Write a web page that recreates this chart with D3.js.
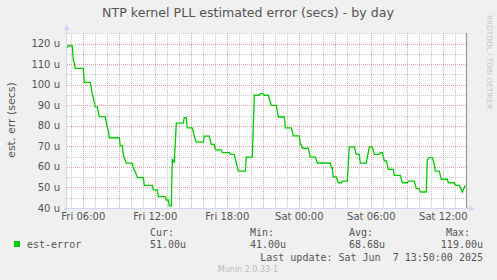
<!DOCTYPE html>
<html>
<head>
<meta charset="utf-8">
<script src="https://cdn.jsdelivr.net/npm/d3@7"></script>
<style>
  html, body { margin: 0; padding: 0; background: #f0f0f0; }
  svg { display: block; }
  text { font-family: "DejaVu Sans", sans-serif; fill: #555; }
  .mono { font-family: "DejaVu Sans Mono", monospace; }
</style>
</head>
<body>
<svg id="chart" width="497" height="280"></svg>
<script>
// Breakpoints of the est-error series (time, microseconds)
const times = [
  "06 04:40", "06 04:45", "06 05:05", "06 05:10", "06 05:15", "06 05:20", "06 06:00", "06 06:05",
  "06 06:35", "06 06:45", "06 06:50", "06 07:00", "06 07:10", "06 07:20", "06 07:50", "06 08:00",
  "06 08:05", "06 08:10", "06 09:00", "06 09:05", "06 09:15", "06 09:20", "06 09:25", "06 09:35",
  "06 10:05", "06 10:10", "06 10:20", "06 10:30", "06 11:00", "06 11:05", "06 11:45", "06 11:50",
  "06 12:10", "06 12:15", "06 12:50", "06 12:55", "06 13:05", "06 13:10", "06 13:20", "06 13:25",
  "06 13:30", "06 13:35", "06 13:45", "06 14:20", "06 14:25", "06 14:35", "06 14:40", "06 15:05",
  "06 15:15", "06 15:25", "06 16:00", "06 16:05", "06 16:30", "06 16:40", "06 16:55", "06 17:00",
  "06 17:30", "06 17:35", "06 18:10", "06 18:15", "06 18:35", "06 18:45", "06 18:55", "06 19:30",
  "06 19:35", "06 20:05", "06 20:15", "06 20:40", "06 20:45", "06 21:00", "06 21:05", "06 21:25",
  "06 21:40", "06 22:05", "06 22:15", "06 22:45", "06 22:50", "06 23:20", "06 23:30", "07 00:00",
  "07 00:05", "07 00:10", "07 00:15", "07 00:45", "07 00:55", "07 01:20", "07 01:30", "07 02:35",
  "07 02:40", "07 02:45", "07 02:50", "07 03:05", "07 03:15", "07 03:30", "07 03:35", "07 04:00",
  "07 04:10", "07 04:35", "07 04:45", "07 05:00", "07 05:05", "07 05:35", "07 05:40", "07 05:50",
  "07 06:05", "07 06:15", "07 06:40", "07 06:45", "07 06:55", "07 07:05", "07 07:15", "07 07:25",
  "07 07:50", "07 07:55", "07 08:25", "07 08:35", "07 09:00", "07 09:05", "07 09:35", "07 09:45",
  "07 10:00", "07 10:05", "07 10:35", "07 10:40", "07 10:50", "07 11:05", "07 11:15", "07 11:20",
  "07 11:40", "07 11:50", "07 12:20", "07 12:25", "07 12:55", "07 13:00", "07 13:20", "07 13:35",
  "07 13:50"
];
const estError = [
  118, 119, 119, 111.6, 110.7, 108, 108, 101.2,
  101.2, 95.4, 93.7, 89.2, 89.2, 84.5, 84.5, 79.1,
  77.9, 74.2, 74.2, 70.2, 70.2, 66.1, 64.5, 61.8,
  61.8, 59.3, 57.7, 54.8, 54.8, 51.0, 51.0, 48.8,
  48.8, 45.5, 45.5, 43.9, 43.9, 41.0, 41.0, 64.0,
  62.4, 62.4, 81.3, 81.3, 84.0, 84.0, 79.0, 79.0,
  75.0, 72.1, 72.1, 75.0, 75.0, 71.0, 71.0, 68.3,
  68.3, 67.0, 67.0, 66.1, 66.1, 62.0, 58.0, 58.0,
  64.8, 64.8, 94.9, 94.9, 95.7, 95.7, 94.9, 94.9,
  90.0, 90.0, 84.3, 84.3, 79.0, 79.0, 75.1, 75.1,
  71.0, 71.0, 69.1, 69.1, 64.8, 64.8, 61.9, 61.9,
  59.6, 59.6, 55.1, 55.1, 52.3, 52.3, 53.1, 53.1,
  69.8, 69.8, 66.1, 66.1, 61.8, 61.8, 64.5, 69.8,
  69.8, 66.1, 66.1, 66.9, 66.9, 62.9, 62.9, 58.8,
  58.8, 55.9, 55.9, 52.3, 52.3, 53.1, 53.1, 49.4,
  49.4, 47.8, 47.8, 63.4, 64.5, 64.5, 61.3, 58.0,
  58.0, 54.0, 54.0, 52.3, 52.3, 51.0, 51.0, 47.8,
  51.0
];
const yTickValues = [40, 50, 60, 70, 80, 90, 100, 110, 120];
const legendHeads = ["Cur:", "Min:", "Avg:", "Max:"];
const legendValues = ["51.00u", "41.00u", "68.68u", "119.00u"];
const seriesName = "est-error";
const lastUpdate = "Last update: Sat Jun  7 13:50:00 2025";

const parseTime = d3.timeParse("%Y-%m-%d %H:%M");
const data = times.map((t, i) => ({ t: parseTime("2025-06-" + t), v: estError[i] }));

const svg = d3.select("#chart");
const plotL = 67, plotR = 467, plotT = 33, plotB = 208;

// 400 px at 5 min per pixel
const x = d3.scaleTime()
  .domain([new Date(2025, 5, 6, 4, 38, 30), new Date(2025, 5, 7, 13, 58, 30)])
  .range([plotL, plotR]);
const y = d3.scaleLinear().domain([40, 125.2]).range([plotB, plotT]);

// canvas
svg.append("rect").attr("x", plotL).attr("y", plotT)
  .attr("width", plotR - plotL).attr("height", plotB - plotT).attr("fill", "#fff");

const grid = svg.append("g").attr("stroke-dasharray", "1,1").attr("stroke-width", 1);
const px = v => Math.round(v) + 0.5;

// minor grid
d3.range(40, 126, 5).filter(v => v % 10 !== 0).forEach(v => {
  grid.append("line").attr("x1", plotL).attr("x2", plotR)
    .attr("y1", px(y(v))).attr("y2", px(y(v))).attr("stroke", "#c8c8c8");
});
x.ticks(d3.timeHour.every(1)).filter(d => d.getHours() % 3 !== 0).forEach(d => {
  grid.append("line").attr("y1", plotT).attr("y2", plotB)
    .attr("x1", px(x(d))).attr("x2", px(x(d))).attr("stroke", "#c8c8c8");
});
// major grid
yTickValues.forEach(v => {
  grid.append("line").attr("x1", plotL).attr("x2", plotR)
    .attr("y1", px(y(v))).attr("y2", px(y(v))).attr("stroke", "#e8a0a0");
});
x.ticks(d3.timeHour.every(3)).forEach(d => {
  grid.append("line").attr("y1", plotT).attr("y2", plotB)
    .attr("x1", px(x(d))).attr("x2", px(x(d))).attr("stroke", "#e8a0a0");
});

// axes
const axisColor = "#cfd6f8";
svg.append("line").attr("x1", plotL - 0.5).attr("x2", plotL - 0.5)
  .attr("y1", plotB + 3).attr("y2", plotT - 4).attr("stroke", axisColor);
svg.append("line").attr("x1", plotL - 3).attr("x2", plotR + 3)
  .attr("y1", plotB + 0.5).attr("y2", plotB + 0.5).attr("stroke", axisColor);
svg.append("path").attr("d", `M${plotL - 3.5},${plotT - 3} L${plotL - 0.5},${plotT - 9} L${plotL + 2.5},${plotT - 3} Z`)
  .attr("fill", axisColor);
svg.append("path").attr("d", `M${plotR + 2},${plotB - 2.5} L${plotR + 8},${plotB + 0.5} L${plotR + 2},${plotB + 3.5} Z`)
  .attr("fill", axisColor);
svg.append("line").attr("x1", plotR - 0.5).attr("x2", plotR - 0.5)
  .attr("y1", plotT).attr("y2", plotB).attr("stroke", "#999").attr("stroke-width", 1.2);

// y tick labels
svg.append("g").selectAll("text").data(yTickValues).join("text")
  .attr("x", 60).attr("y", d => y(d) + 3.5)
  .attr("text-anchor", "end").attr("font-size", 10)
  .text(d => d + " u");

// x tick labels
const fmt = d3.timeFormat("%a %H:%M");
svg.append("g").selectAll("text").data(x.ticks(d3.timeHour.every(6))).join("text")
  .attr("x", d => x(d)).attr("y", 220)
  .attr("text-anchor", "middle").attr("font-size", 10)
  .text(fmt);

// series
const line = d3.line().x(d => x(d.t)).y(d => y(d.v));
svg.append("path").datum(data)
  .attr("d", line).attr("fill", "none")
  .attr("stroke", "#00cc00").attr("stroke-width", 1.3);

// title + labels
svg.append("text").attr("x", 248).attr("y", 17).attr("text-anchor", "middle")
  .attr("font-size", 12.6).text("NTP kernel PLL estimated error (secs) - by day");
svg.append("text").attr("transform", "translate(15,120) rotate(-90)")
  .attr("text-anchor", "middle").attr("font-size", 11).text("est. err (secs)");
svg.append("text").attr("transform", "translate(487,15) rotate(90)")
  .attr("font-size", 7.3).style("fill", "#c8c8c8").text("RRDTOOL / TOBI OETIKER");

// legend
svg.append("rect").attr("x", 14).attr("y", 241).attr("width", 6).attr("height", 6).attr("fill", "#00cc00");
svg.append("text").attr("class", "mono").attr("x", 27).attr("y", 248).attr("font-size", 10).text(seriesName);
const colX = [150, 250, 349, 483];
legendHeads.forEach((h, i) => {
  const anchor = i === 3 ? "end" : "start";
  const hx = i === 3 ? 470 : colX[i];
  svg.append("text").attr("class", "mono").attr("x", hx).attr("y", 236)
    .attr("text-anchor", anchor).attr("font-size", 10).text(h);
  svg.append("text").attr("class", "mono").attr("x", colX[i]).attr("y", 248)
    .attr("text-anchor", anchor).attr("font-size", 10).text(legendValues[i]);
});
svg.append("text").attr("class", "mono").attr("x", 483).attr("y", 261)
  .attr("text-anchor", "end").attr("font-size", 10)
  .style("white-space", "pre").text(lastUpdate);
svg.append("text").attr("x", 248).attr("y", 272).attr("text-anchor", "middle")
  .attr("font-size", 8).style("fill", "#bbb").text("Munin 2.0.33-1");
</script>
</body>
</html>
